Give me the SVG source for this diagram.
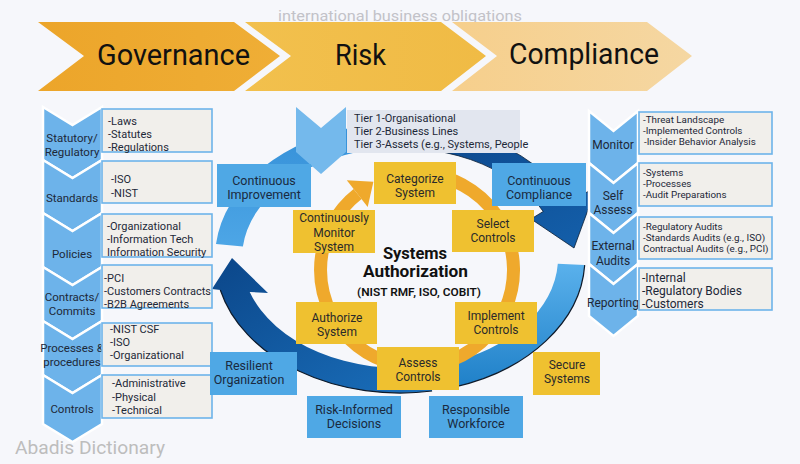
<svg xmlns="http://www.w3.org/2000/svg" width="800" height="464" viewBox="0 0 800 464">
<defs>
<style>
text{font-family:Roboto,"Noto Sans","DejaVu Sans",sans-serif;fill:#1d2838}
.t{font-size:30px;text-anchor:middle;fill:#111}
.lab{font-size:11.5px;text-anchor:middle}
.li{font-size:11px}
.ri{font-size:9.8px}
.rl{font-size:12px;text-anchor:middle}
.bb{font-size:12.5px;text-anchor:middle;fill:#1a2a40}
.yb{font-size:12px;text-anchor:middle;fill:#2a2a2a}
.chev{fill:#6db3ea;stroke:#fff;stroke-width:2.5}
.bx{fill:#f1efeb;stroke:#6db3ea;stroke-width:1.6}
.blue{fill:#4fa8e5}
.yel{fill:#efc130}
</style>
<linearGradient id="gGov" x1="0" x2="1" y1="0" y2="0"><stop offset="0" stop-color="#eca52a"/><stop offset="1" stop-color="#efae36"/></linearGradient>
<linearGradient id="gRisk" x1="0" x2="1" y1="0" y2="0"><stop offset="0" stop-color="#f2c04d"/><stop offset="1" stop-color="#f0bb45"/></linearGradient>
<linearGradient id="gComp" x1="0" x2="1" y1="0" y2="0"><stop offset="0" stop-color="#f6cf8c"/><stop offset="1" stop-color="#f5d7a2"/></linearGradient>
<linearGradient id="gDarkTop" x1="0" y1="0" x2="1" y2="1"><stop offset="0" stop-color="#0b4285"/><stop offset="1" stop-color="#1460ab"/></linearGradient>
<linearGradient id="gDarkBot" x1="0" y1="0" x2="1" y2="1"><stop offset="0" stop-color="#0b4689"/><stop offset="1" stop-color="#1a6fbb"/></linearGradient>
<linearGradient id="gLightR" x1="0" y1="0" x2="0" y2="1"><stop offset="0" stop-color="#5ab1ec"/><stop offset="1" stop-color="#1f80c8"/></linearGradient>
<linearGradient id="gLightL" x1="0" y1="1" x2="0" y2="0"><stop offset="0" stop-color="#4da6e6"/><stop offset="1" stop-color="#3590d8"/></linearGradient>
</defs>
<rect width="800" height="464" fill="#f6f7fb"/>

<text x="400" y="21" font-size="15" text-anchor="middle" style="fill:#c2c2c8" textLength="244" lengthAdjust="spacingAndGlyphs">international business obligations</text>

<g id="banner-governance">
<polygon points="38,22 234,22 280,56 234,91 38,91 84,56" fill="url(#gGov)"/>
<text class="t" x="173.5" y="65" textLength="153" lengthAdjust="spacingAndGlyphs">Governance</text>
</g>
<g id="banner-risk">
<polygon points="245,22 441,22 486,56 441,91 245,91 291,56" fill="url(#gRisk)"/>
<text class="t" x="360.5" y="65" textLength="51" lengthAdjust="spacingAndGlyphs">Risk</text>
</g>
<g id="banner-compliance">
<polygon points="452,22 647,22 692,56 647,91 452,91 497,56" fill="url(#gComp)"/>
<text class="t" x="584" y="64" textLength="150" lengthAdjust="spacingAndGlyphs">Compliance</text>
</g>

<g id="connectors">
<path id="arc-left-light" d="M216,243.9 A185,135 0 0 1 361.5,126 L367.2,150.4 A158,110 0 0 0 242.9,246.5 Z" fill="url(#gLightL)"/>
<path id="arc-top-dark" d="M361.5,126 A185,135 0 0 1 567.7,200.9 L596,188 L574,248 L531,219 L543.2,211.5 A158,110 0 0 0 367.2,150.4 Z" fill="url(#gDarkTop)" stroke="#0a1e35" stroke-width="0.8"/>
<path id="arc-right-light" d="M584.7,265.1 A185,135 0 0 1 454.1,387.1 L446.2,363.2 A158,110 0 0 0 557.8,263.8 Z" fill="url(#gLightR)"/>
<path d="M584.7,265.1 A185,135 0 0 1 454.1,387.1" fill="none" stroke="#0d1a2a" stroke-width="1.2"/>
<path id="arc-bottom-dark" d="M432.1,391 A185,135 0 0 1 220.3,290 L212,289 L232,258 L268,293 L249.7,292 A158,110 0 0 0 427.4,366.3 Z" fill="url(#gDarkBot)"/>
<path d="M432.1,391 A185,135 0 0 1 220.3,290" fill="none" stroke="#0d1a2a" stroke-width="1.2"/>
<path id="ring-orange" d="M433.8,175 A96.5,96.5 0 1 1 357.6,194" fill="none" stroke="#efa92c" stroke-width="13"/>
<polygon points="367.7,207 346.8,180.2 373.4,181.7" fill="#efa92c"/>
</g>

<g id="left-column">
<polygon class="chev" points="43,107 72.5,125 102,107 102,160 72.5,178 43,160"/>
<polygon class="chev" points="43,160 72.5,178 102,160 102,213 72.5,231 43,213"/>
<polygon class="chev" points="43,213 72.5,231 102,213 102,267 72.5,285 43,267"/>
<polygon class="chev" points="43,267 72.5,285 102,267 102,321 72.5,339 43,321"/>
<polygon class="chev" points="43,321 72.5,339 102,321 102,375 72.5,393 43,375"/>
<polygon class="chev" points="43,375 72.5,393 102,375 102,424 72.5,442 43,424"/>
</g>
<g id="node-statutory"><text class="lab" x="72" y="142">Statutory/</text><text class="lab" x="72" y="156">Regulatory</text>
<rect class="bx" x="102" y="109" width="110" height="43"/><text class="li" x="108" y="125">-Laws</text><text class="li" x="108" y="138">-Statutes</text><text class="li" x="108" y="151">-Regulations</text></g>
<g id="node-standards"><text class="lab" x="72" y="202">Standards</text>
<rect class="bx" x="102" y="161" width="110" height="42"/><text class="li" x="111" y="183">-ISO</text><text class="li" x="111" y="197">-NIST</text></g>
<g id="node-policies"><text class="lab" x="72" y="258">Policies</text>
<rect class="bx" x="102" y="214" width="110" height="43"/><text class="li" x="107" y="230">-Organizational</text><text class="li" x="107" y="243">-Information Tech</text><text class="li" x="107" y="256">Information Security</text></g>
<g id="node-contracts"><text class="lab" x="72" y="301">Contracts/</text><text class="lab" x="72" y="314.5">Commits</text>
<rect class="bx" x="102" y="265" width="110" height="43"/><text class="li" x="104" y="282">-PCI</text><text class="li" x="104" y="295">-Customers Contracts</text><text class="li" x="104" y="308">-B2B Agreements</text></g>
<g id="node-processes"><text class="lab" x="72" y="352">Processes &amp;</text><text class="lab" x="72" y="365.5">procedures</text>
<rect class="bx" x="102" y="323" width="110" height="43"/><text class="li" x="110" y="333">-NIST CSF</text><text class="li" x="110" y="346">-ISO</text><text class="li" x="110" y="359">-Organizational</text></g>
<g id="node-controls"><text class="lab" x="72" y="413">Controls</text>
<rect class="bx" x="102" y="375" width="110" height="43"/><text class="li" x="112" y="387">-Administrative</text><text class="li" x="112" y="400.5">-Physical</text><text class="li" x="112" y="414">-Technical</text></g>

<g id="right-column">
<polygon class="chev" points="589,111 613.5,131 638,111 638,163 613.5,183 589,163"/>
<polygon class="chev" points="589,163 613.5,183 638,163 638,213 613.5,233 589,213"/>
<polygon class="chev" points="589,213 613.5,233 638,213 638,264 613.5,284 589,264"/>
<polygon class="chev" points="589,264 613.5,284 638,264 638,316 613.5,336 589,316"/>
</g>
<g id="node-monitor"><text class="rl" x="613" y="149">Monitor</text>
<rect class="bx" x="639" y="112" width="133" height="42"/><text class="ri" x="643" y="122.5">-Threat Landscape</text><text class="ri" x="643" y="133.5">-Implemented Controls</text><text class="ri" x="644" y="144.5">-Insider Behavior Analysis</text></g>
<g id="node-self-assess"><text class="rl" x="613" y="200">Self</text><text class="rl" x="613" y="214">Assess</text>
<rect class="bx" x="639" y="163" width="133" height="43"/><text class="ri" x="643" y="175.5">-Systems</text><text class="ri" x="643" y="186.5">-Processes</text><text class="ri" x="643" y="197.5">-Audit Preparations</text></g>
<g id="node-external"><text class="rl" x="613" y="250">External</text><text class="rl" x="613" y="265">Audits</text>
<rect class="bx" x="639" y="217" width="133" height="42"/><text class="ri" x="643" y="230">-Regulatory Audits</text><text class="ri" x="643" y="241">-Standards Audits (e.g., ISO)</text><text class="ri" x="643" y="252">Contractual Audits (e.g., PCI)</text></g>
<g id="node-reporting"><text class="rl" x="613" y="307">Reporting</text>
<rect class="bx" x="639" y="268" width="133" height="42"/><text x="642" y="281.5" font-size="12">-Internal</text><text x="642" y="294.5" font-size="12">-Regulatory Bodies</text><text x="642" y="307.5" font-size="12">-Customers</text></g>

<g id="node-tiers">
<polygon points="296,107 321,128 346,107 346,152 321,174 296,152" fill="#74b9ec"/>
<rect x="347" y="110" width="173" height="43" fill="#e2e6ef"/>
<text x="354" y="122" font-size="11">Tier 1-Organisational</text>
<text x="354" y="135" font-size="11">Tier 2-Business Lines</text>
<text x="354" y="148" font-size="11">Tier 3-Assets (e.g., Systems, People</text>
</g>

<g id="node-continuous-improvement"><rect class="blue" x="217" y="164" width="94" height="43"/><text class="bb" x="264" y="184.5">Continuous</text><text class="bb" x="264" y="198.5">Improvement</text></g>
<g id="node-continuous-compliance"><rect class="blue" x="492" y="163" width="94" height="43"/><text class="bb" x="539" y="184.5">Continuous</text><text class="bb" x="539" y="198.5">Compliance</text></g>
<g id="node-resilient"><rect class="blue" x="210" y="352" width="87" height="43"/><text class="bb" x="249" y="369.5">Resilient</text><text class="bb" x="249" y="383.5">Organization</text></g>
<g id="node-risk-informed"><rect class="blue" x="307" y="396" width="94" height="42"/><text class="bb" x="354" y="413.5">Risk-Informed</text><text class="bb" x="354" y="427.5">Decisions</text></g>
<g id="node-responsible"><rect class="blue" x="429" y="396" width="94" height="42"/><text class="bb" x="476" y="413.5">Responsible</text><text class="bb" x="476" y="428">Workforce</text></g>

<g id="node-categorize"><rect class="yel" x="374" y="162" width="82" height="42"/><text class="yb" x="415" y="183">Categorize</text><text class="yb" x="415" y="197">System</text></g>
<g id="node-select"><rect class="yel" x="452" y="210" width="82" height="42"/><text class="yb" x="493" y="228">Select</text><text class="yb" x="493" y="241.5">Controls</text></g>
<g id="node-monitor-system"><rect class="yel" x="293" y="210" width="82" height="43"/><text class="yb" x="334" y="222">Continuously</text><text class="yb" x="334" y="236.5">Monitor</text><text class="yb" x="334" y="251">System</text></g>
<g id="node-authorize"><rect class="yel" x="296" y="302" width="81" height="42"/><text class="yb" x="337" y="322">Authorize</text><text class="yb" x="337" y="336">System</text></g>
<g id="node-implement"><rect class="yel" x="455" y="302" width="82" height="42"/><text class="yb" x="496" y="320">Implement</text><text class="yb" x="496" y="333.5">Controls</text></g>
<g id="node-assess"><rect class="yel" x="377" y="347" width="82" height="43"/><text class="yb" x="418" y="367">Assess</text><text class="yb" x="418" y="381">Controls</text></g>
<g id="node-secure"><rect class="yel" x="533" y="352" width="67" height="43"/><text class="yb" x="567" y="369">Secure</text><text class="yb" x="567" y="383">Systems</text></g>

<g id="center-title">
<text x="415" y="259" font-size="16.5" font-weight="bold" text-anchor="middle" style="fill:#111">Systems</text>
<text x="415.5" y="277" font-size="16.5" font-weight="bold" text-anchor="middle" style="fill:#111" textLength="105" lengthAdjust="spacingAndGlyphs">Authorization</text>
<text x="419" y="296" font-size="11.5" font-weight="600" text-anchor="middle" style="fill:#111" textLength="124" lengthAdjust="spacingAndGlyphs">(NIST RMF, ISO, COBIT)</text>
</g>

<text x="15" y="454" font-size="19" style="fill:#bdbdbd" textLength="150" lengthAdjust="spacingAndGlyphs">Abadis Dictionary</text>
</svg>
